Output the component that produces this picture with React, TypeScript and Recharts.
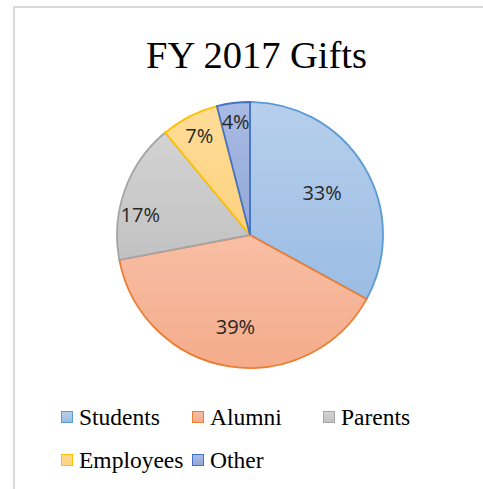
import { PieChart, Pie, Cell, Legend } from 'recharts';

const categories = ['Students', 'Alumni', 'Parents', 'Employees', 'Other'];
const shares = [33, 39, 17, 7, 4];

const seriesColors = [
  { top: '#b7cfec', bottom: '#9bbce4', stroke: '#5b9bd5' },
  { top: '#f8bea4', bottom: '#f4ac8c', stroke: '#ed7d31' },
  { top: '#d3d3d3', bottom: '#c2c2c2', stroke: '#a5a5a5' },
  { top: '#ffdc98', bottom: '#fdd27f', stroke: '#ffc000' },
  { top: '#a9bbe3', bottom: '#93a8d8', stroke: '#4472c4' },
];

// label placement: fraction of radius, and an angle nudge in degrees
const labelReach = [0.63, 0.7, 0.84, 0.84, 0.86];
const labelTurn = [0, 0, 9, 0, 0];

const data = categories.map((name, i) => ({ name, value: shares[i] }));

const RADIAN = Math.PI / 180;

const renderLabel = (props: any) => {
  const { cx, cy, midAngle, outerRadius, index, value } = props;
  const r = outerRadius * labelReach[index];
  const a = midAngle + labelTurn[index];
  const x = cx + r * Math.cos(-a * RADIAN);
  const y = cy + r * Math.sin(-a * RADIAN);
  return (
    <text
      x={x}
      y={y}
      textAnchor="middle"
      dominantBaseline="central"
      fill="#262626"
      fontSize={20}
      fontFamily="'Open Sans', 'Liberation Sans', sans-serif"
    >
      {`${value}%`}
    </text>
  );
};

const renderLegend = () => (
  <div
    style={{
      display: 'flex',
      flexWrap: 'wrap',
      width: 400,
      marginLeft: 61,
      rowGap: 19,
      fontFamily: "'Liberation Serif', 'Times New Roman', serif",
      fontSize: 23.5,
      color: '#000',
    }}
  >
    {categories.map((name, i) => (
      <div
        key={name}
        style={{ width: 131, display: 'flex', alignItems: 'center', height: 24 }}
      >
        <span
          style={{
            display: 'inline-block',
            width: 10,
            height: 10,
            border: `1.5px solid ${seriesColors[i].stroke}`,
            background: `linear-gradient(${seriesColors[i].top}, ${seriesColors[i].bottom})`,
            marginRight: 6,
          }}
        />
        <span>{name}</span>
      </div>
    ))}
  </div>
);

export default function App() {
  return (
    <div style={{ position: 'absolute', left: 0, top: 0, width: 483, height: 489, background: '#fff' }}>
      <div
        style={{
          position: 'absolute',
          left: 13,
          top: 6,
          width: 480,
          height: 490,
          borderLeft: '2px solid #d9d9d9',
          borderTop: '2px solid #d9d9d9',
        }}
      />
      <div
        style={{
          position: 'absolute',
          top: 35,
          left: 0,
          width: 513,
          textAlign: 'center',
          fontFamily: "'Liberation Serif', 'Times New Roman', serif",
          fontSize: 38.5,
          lineHeight: '40px',
          color: '#000',
        }}
      >
        FY 2017 Gifts
      </div>
      <div style={{ position: 'absolute', left: 0, top: 0 }}>
        <PieChart width={483} height={489} margin={{ top: 0, right: 0, bottom: 0, left: 0 }}>
          <defs>
            {seriesColors.map((c, i) => (
              <linearGradient key={i} id={`grad${i}`} x1="0" y1="0" x2="0" y2="1">
                <stop offset="0%" stopColor={c.top} />
                <stop offset="100%" stopColor={c.bottom} />
              </linearGradient>
            ))}
          </defs>
          <Pie
            data={data}
            dataKey="value"
            nameKey="name"
            cx={250}
            cy={235}
            outerRadius={133}
            startAngle={90}
            endAngle={-270}
            label={renderLabel}
            labelLine={false}
            isAnimationActive={false}
          >
            {data.map((d, i) => (
              <Cell
                key={d.name}
                fill={`url(#grad${i})`}
                stroke={seriesColors[i].stroke}
                strokeWidth={1.8}
              />
            ))}
          </Pie>
          <Legend
            content={renderLegend}
            verticalAlign="bottom"
            wrapperStyle={{ left: 0, top: 405, width: 483 }}
          />
        </PieChart>
      </div>
    </div>
  );
}
